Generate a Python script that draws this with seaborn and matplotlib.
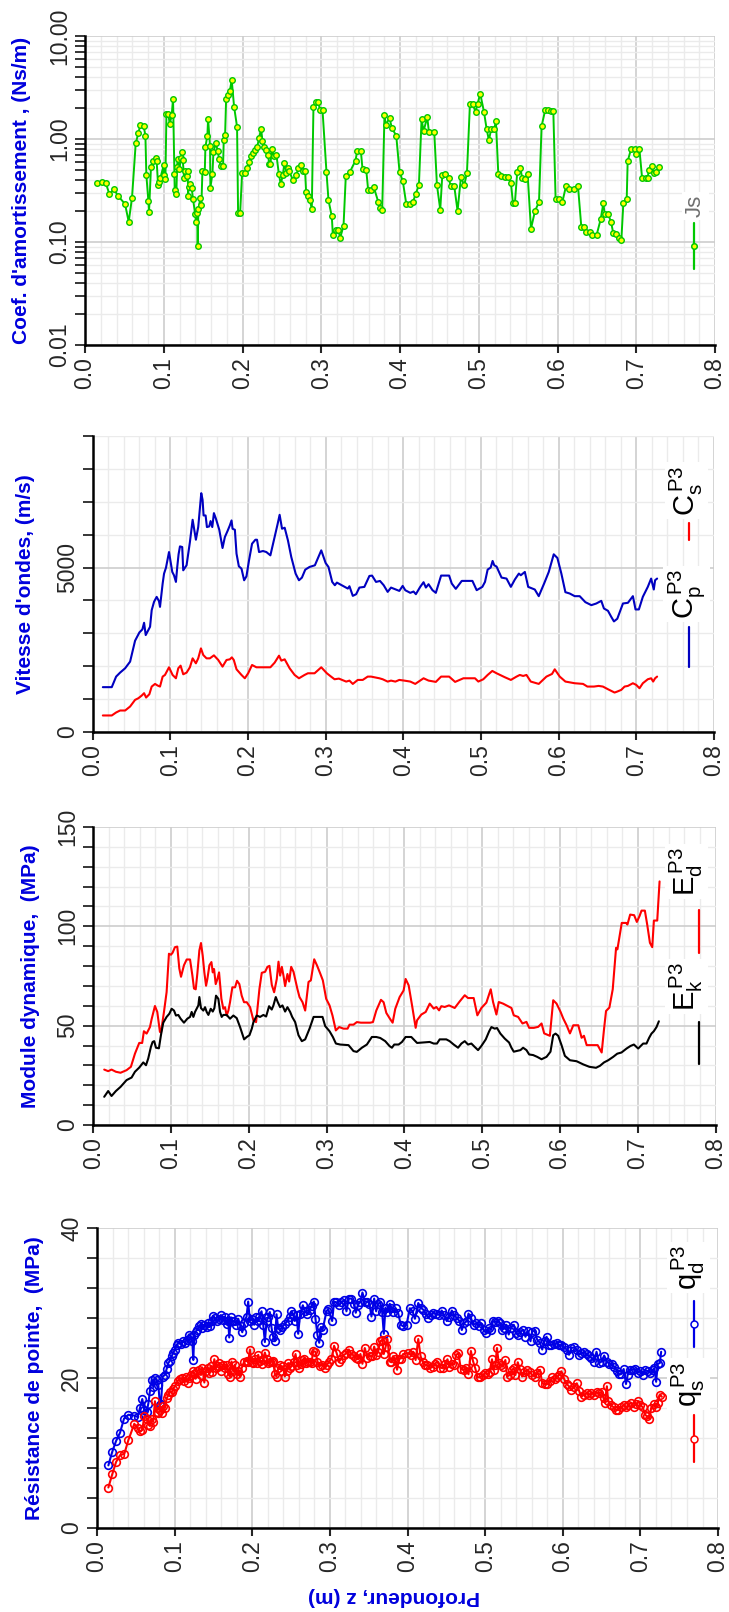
import matplotlib
matplotlib.use("Agg")
import matplotlib.pyplot as plt
import seaborn as sns
from matplotlib.ticker import MultipleLocator, FixedLocator, LogLocator, NullFormatter, FormatStrFormatter

sns.set_style("white")
plt.rcParams["font.family"] = ["Liberation Sans", "DejaVu Sans"]
plt.rcParams["mathtext.fontset"] = "custom"
plt.rcParams["mathtext.rm"] = "Liberation Sans"
plt.rcParams["mathtext.it"] = "Liberation Sans:italic"

# ---------------- data (profondeur z en m) ----------------
# coef. d'amortissement Js
js_z = [0.0152, 0.0212, 0.0263, 0.0309, 0.0368, 0.0424, 0.0508, 0.0555, 0.0597, 0.0644,
        0.0678, 0.0703, 0.0745, 0.0767, 0.0779, 0.0805, 0.0813, 0.0838, 0.0860, 0.0902,
        0.0910, 0.0928, 0.0936, 0.0957, 0.0999, 0.1000, 0.1021, 0.1034, 0.1059, 0.1076,
        0.1101, 0.1118, 0.1135, 0.1139, 0.1160, 0.1169, 0.1177, 0.1198, 0.1220, 0.1237,
        0.1241, 0.1258, 0.1275, 0.1292, 0.1305, 0.1309, 0.1317, 0.1338, 0.1355, 0.1372,
        0.1398, 0.1410, 0.1423, 0.1431, 0.1440, 0.1466, 0.1478, 0.1491, 0.1521, 0.1529,
        0.1554, 0.1563, 0.1588, 0.1592, 0.1618, 0.1631, 0.1660, 0.1686, 0.1703, 0.1724,
        0.1753, 0.1762, 0.1779, 0.1792, 0.1817, 0.1838, 0.1863, 0.1893, 0.1931, 0.1944,
        0.1970, 0.1995, 0.2033, 0.2063, 0.2084, 0.2109, 0.2130, 0.2160, 0.2186, 0.2211,
        0.2236, 0.2253, 0.2279, 0.2300, 0.2325, 0.2338, 0.2355, 0.2372, 0.2397, 0.2431,
        0.2461, 0.2486, 0.2511, 0.2533, 0.2558, 0.2575, 0.2592, 0.2643, 0.2681, 0.2711,
        0.2740, 0.2766, 0.2795, 0.2808, 0.2833, 0.2855, 0.2880, 0.2901, 0.2931, 0.2965,
        0.2982, 0.3016, 0.3066, 0.3092, 0.3134, 0.3147, 0.3189, 0.3219, 0.3240, 0.3283,
        0.3312, 0.3363, 0.3435, 0.3456, 0.3503, 0.3524, 0.3571, 0.3596, 0.3634, 0.3668,
        0.3723, 0.3744, 0.3774, 0.3803, 0.3820, 0.3867, 0.3897, 0.3952, 0.3994, 0.4036,
        0.4079, 0.4121, 0.4164, 0.4197, 0.4240, 0.4274, 0.4299, 0.4346, 0.4367, 0.4435,
        0.4469, 0.4511, 0.4537, 0.4574, 0.4617, 0.4646, 0.4689, 0.4731, 0.4773, 0.4816,
        0.4850, 0.4888, 0.4921, 0.4960, 0.4985, 0.5019, 0.5066, 0.5100, 0.5129, 0.5159,
        0.5197, 0.5218, 0.5248, 0.5286, 0.5328, 0.5366, 0.5409, 0.5434, 0.5459, 0.5489,
        0.5527, 0.5553, 0.5591, 0.5620, 0.5663, 0.5714, 0.5765, 0.5798, 0.5845, 0.5879,
        0.5913, 0.5947, 0.5976, 0.6023, 0.6061, 0.6108, 0.6145, 0.6213, 0.6260, 0.6302,
        0.6336, 0.6366, 0.6408, 0.6442, 0.6497, 0.6548, 0.6582, 0.6599, 0.6641, 0.6679,
        0.6709, 0.6747, 0.6781, 0.6811, 0.6836, 0.6879, 0.6891, 0.6934, 0.6980, 0.7002,
        0.7040, 0.7074, 0.7120, 0.7146, 0.7158, 0.7197, 0.7222, 0.7248, 0.7290]
js_v = [0.374, 0.379, 0.376, 0.292, 0.324, 0.277, 0.234, 0.157, 0.269, 0.907,
        1.14, 1.38, 1.33, 1.08, 0.447, 0.248, 0.197, 0.538, 0.607, 0.658,
        0.611, 0.355, 0.379, 0.418, 0.555, 0.443, 0.412, 1.73, 1.73, 1.39,
        1.70, 2.46, 0.457, 0.322, 0.292, 0.53, 0.644, 0.515, 0.653, 0.747,
        0.63, 0.421, 0.485, 0.44, 0.485, 0.277, 0.342, 0.363, 0.332, 0.261,
        0.188, 0.156, 0.19, 0.092, 0.209, 0.267, 0.228, 0.485, 0.481, 0.836,
        1.08, 1.57, 0.848, 0.337, 0.457, 0.742, 0.913, 0.764, 0.634, 0.542,
        0.542, 0.984, 1.09, 2.44, 2.65, 2.90, 3.74, 2.06, 1.31, 0.191,
        0.191, 0.467, 0.467, 0.526, 0.597, 0.678, 0.731, 0.787, 0.836, 1.02,
        1.26, 0.963, 0.836, 0.787, 0.704, 0.571, 0.571, 0.805, 0.689, 0.699,
        0.46, 0.363, 0.443, 0.584, 0.467, 0.519, 0.485, 0.397, 0.443, 0.519,
        0.563, 0.489, 0.485, 0.303, 0.281, 0.256, 0.209, 2.04, 2.29, 2.29,
        1.91, 1.91, 0.481, 0.254, 0.177, 0.118, 0.132, 0.13, 0.109, 0.144,
        0.44, 0.478, 0.616, 0.764, 0.76, 0.511, 0.503, 0.317, 0.317, 0.339,
        0.246, 0.215, 0.206, 1.70, 1.37, 1.60, 1.27, 1.08, 0.481, 0.388,
        0.235, 0.235, 0.243, 0.29, 0.357, 1.56, 1.19, 1.63, 1.17, 1.16,
        0.357, 0.206, 0.443, 0.46, 0.415, 0.347, 0.347, 0.2, 0.424, 0.357,
        0.467, 2.19, 2.19, 1.83, 2.20, 2.75, 1.84, 1.25, 0.97, 1.26,
        1.26, 1.48, 0.46, 0.44, 0.431, 0.431, 0.371, 0.239, 0.239, 0.481,
        0.523, 0.415, 0.409, 0.46, 0.134, 0.2, 0.244, 1.33, 1.93, 1.93,
        1.85, 1.85, 0.259, 0.259, 0.243, 0.349, 0.327, 0.327, 0.349, 0.141,
        0.14, 0.126, 0.126, 0.117, 0.117, 0.166, 0.237, 0.188, 0.188, 0.157,
        0.121, 0.119, 0.109, 0.105, 0.237, 0.263, 0.607, 0.80, 0.80, 0.72,
        0.80, 0.418, 0.418, 0.418, 0.503, 0.542, 0.464, 0.481, 0.53]

# vitesses d'ondes Cp / Cs (m/s)
cp_z = [0.0132, 0.0247, 0.0303, 0.0354, 0.0419, 0.0483, 0.0547, 0.0603, 0.0641, 0.0663,
        0.0684, 0.0740, 0.0761, 0.0791, 0.0825, 0.0855, 0.0868, 0.0902, 0.0920, 0.0945,
        0.0984, 0.1026, 0.1048, 0.1073, 0.1090, 0.1107, 0.1125, 0.1154, 0.1167, 0.1210,
        0.1232, 0.1253, 0.1288, 0.1330, 0.1360, 0.1381, 0.1399, 0.1416, 0.1429, 0.1455,
        0.1472, 0.1502, 0.1519, 0.1541, 0.1562, 0.1588, 0.1631, 0.1673, 0.1703, 0.1737,
        0.1767, 0.1789, 0.1802, 0.1832, 0.1853, 0.1883, 0.1917, 0.1951, 0.1981, 0.2014,
        0.2053, 0.2096, 0.2117, 0.2143, 0.2194, 0.2237, 0.2289, 0.2344, 0.2383, 0.2408,
        0.2439, 0.2473, 0.2515, 0.2558, 0.2614, 0.2657, 0.2695, 0.2738, 0.2793, 0.2862,
        0.2944, 0.3000, 0.3037, 0.3085, 0.3119, 0.3145, 0.3222, 0.3286, 0.3307, 0.3350,
        0.3393, 0.3435, 0.3499, 0.3564, 0.3598, 0.3649, 0.3700, 0.3748, 0.3799, 0.3842,
        0.3906, 0.3949, 0.3992, 0.4026, 0.4090, 0.4132, 0.4162, 0.4218, 0.4261, 0.4291,
        0.4325, 0.4376, 0.4419, 0.4487, 0.4590, 0.4624, 0.4676, 0.4753, 0.4817, 0.4890,
        0.4945, 0.5018, 0.5052, 0.5086, 0.5125, 0.5150, 0.5171, 0.5201, 0.5265, 0.5329,
        0.5385, 0.5436, 0.5488, 0.5513, 0.5565, 0.5608, 0.5693, 0.5744, 0.5813, 0.5873,
        0.5937, 0.5984, 0.6035, 0.6087, 0.6142, 0.6207, 0.6271, 0.6344, 0.6421, 0.6485,
        0.6549, 0.6583, 0.6635, 0.6677, 0.6712, 0.6755, 0.6828, 0.6892, 0.6956, 0.6990,
        0.7033, 0.7084, 0.7148, 0.7191, 0.7225, 0.7242, 0.7268]
cp_v = [1364, 1364, 1685, 1806, 1938, 2140, 2776, 3029, 3120, 3322,
        2948, 3200, 3705, 3958, 4109, 3978, 3806, 4513, 4816, 4998,
        5473, 4867, 4766, 4564, 5019, 5402, 5645, 5625, 4917, 5070,
        5423, 5776, 6454, 5847, 6232, 6787, 7262, 7060, 6585, 6585,
        6232, 6253, 6414, 6232, 6656, 6484, 6150, 5595, 5928, 6110,
        6282, 6434, 6181, 6150, 5423, 5039, 4968, 4614, 4735, 5220,
        5726, 5847, 5847, 5473, 5504, 5473, 5372, 5928, 6333, 6605,
        6181, 6212, 5827, 5322, 4816, 4614, 4695, 4937, 5019, 5070,
        5524, 5140, 5019, 4564, 4463, 4544, 4443, 4362, 4433, 4140,
        4190, 4392, 4413, 4746, 4756, 4564, 4594, 4463, 4261, 4392,
        4332, 4291, 4443, 4311, 4232, 4272, 4191, 4414, 4555, 4393,
        4494, 4313, 4232, 4757, 4757, 4515, 4353, 4595, 4595, 4595,
        4313, 4414, 4565, 4939, 5000, 5202, 5070, 5030, 4696, 4666,
        4414, 4636, 4818, 4767, 4868, 4414, 4333, 4131, 4515, 4868,
        5404, 5292, 4818, 4252, 4212, 4131, 4131, 3949, 3858, 3908,
        3989, 3757, 3686, 3504, 3363, 3444, 3908, 3929, 4131, 3727,
        3727, 4111, 4414, 4666, 4333, 4616, 4666]
cs_z = [0.0132, 0.0247, 0.0303, 0.0354, 0.0419, 0.0483, 0.0547, 0.0590, 0.0633, 0.0663,
        0.0689, 0.0731, 0.0761, 0.0804, 0.0838, 0.0868, 0.0902, 0.0932, 0.0984, 0.1030,
        0.1073, 0.1103, 0.1133, 0.1167, 0.1210, 0.1253, 0.1288, 0.1330, 0.1360, 0.1395,
        0.1425, 0.1467, 0.1510, 0.1562, 0.1618, 0.1673, 0.1724, 0.1767, 0.1793, 0.1818,
        0.1853, 0.1917, 0.1960, 0.2003, 0.2053, 0.2109, 0.2289, 0.2344, 0.2400, 0.2430,
        0.2473, 0.2537, 0.2601, 0.2657, 0.2729, 0.2772, 0.2858, 0.2944, 0.3016, 0.3059,
        0.3115, 0.3171, 0.3265, 0.3307, 0.3350, 0.3414, 0.3478, 0.3542, 0.3585, 0.3692,
        0.3735, 0.3799, 0.3842, 0.3898, 0.3949, 0.4013, 0.4090, 0.4154, 0.4261, 0.4325,
        0.4419, 0.4487, 0.4590, 0.4667, 0.4774, 0.4923, 0.4966, 0.5030, 0.5086, 0.5146,
        0.5201, 0.5308, 0.5385, 0.5458, 0.5500, 0.5543, 0.5586, 0.5641, 0.5744, 0.5843,
        0.5915, 0.5950, 0.6014, 0.6087, 0.6207, 0.6314, 0.6370, 0.6455, 0.6515, 0.6570,
        0.6635, 0.6720, 0.6755, 0.6806, 0.6849, 0.6892, 0.6956, 0.6999, 0.7041, 0.7084,
        0.7148, 0.7191, 0.7217, 0.7242, 0.7268]
cs_v = [503, 503, 594, 654, 654, 775, 977, 1028, 1109, 1180,
        1048, 1149, 1382, 1462, 1412, 1382, 1685, 1735, 1968, 1735,
        1634, 1937, 2018, 1755, 1806, 1968, 2240, 2089, 2240, 2543,
        2341, 2240, 2240, 2331, 2190, 1988, 2190, 2210, 2270, 2190,
        1907, 1735, 1634, 1786, 2038, 1968, 1968, 2109, 2321, 2170,
        2210, 1937, 1735, 1634, 1735, 1786, 1786, 1968, 1786, 1705,
        1604, 1624, 1533, 1563, 1462, 1584, 1584, 1685, 1685, 1634,
        1604, 1533, 1563, 1533, 1584, 1563, 1534, 1463, 1634, 1564,
        1524, 1685, 1685, 1524, 1634, 1634, 1534, 1604, 1735, 1857,
        1786, 1665, 1584, 1685, 1735, 1705, 1735, 1534, 1463, 1685,
        1766, 1907, 1685, 1534, 1483, 1463, 1382, 1382, 1402, 1382,
        1301, 1200, 1230, 1281, 1382, 1402, 1483, 1433, 1331, 1483,
        1604, 1634, 1534, 1634, 1685]

# module dynamique Ek / Ed (MPa)
ek_z = [0.0142, 0.0193, 0.0236, 0.0292, 0.0352, 0.0429, 0.0494, 0.0537, 0.0592, 0.0644,
        0.0679, 0.0708, 0.0742, 0.0764, 0.0785, 0.0807, 0.0845, 0.0871, 0.0901, 0.0944,
        0.0979, 0.1009, 0.1039, 0.1064, 0.1094, 0.1124, 0.1167, 0.1210, 0.1245, 0.1266,
        0.1288, 0.1309, 0.1330, 0.1352, 0.1365, 0.1386, 0.1416, 0.1438, 0.1459, 0.1481,
        0.1511, 0.1537, 0.1558, 0.1579, 0.1609, 0.1631, 0.1652, 0.1673, 0.1716, 0.1759,
        0.1802, 0.1845, 0.1888, 0.1940, 0.1974, 0.2009, 0.2039, 0.2060, 0.2103, 0.2145,
        0.2188, 0.2223, 0.2261, 0.2295, 0.2317, 0.2347, 0.2373, 0.2403, 0.2433, 0.2467,
        0.2497, 0.2532, 0.2558, 0.2596, 0.2639, 0.2682, 0.2725, 0.2781, 0.2833, 0.2897,
        0.2948, 0.2982, 0.3038, 0.3081, 0.3120, 0.3175, 0.3282, 0.3346, 0.3389, 0.3454,
        0.3518, 0.3582, 0.3639, 0.3690, 0.3754, 0.3810, 0.3840, 0.3870, 0.3926, 0.3969,
        0.4016, 0.4089, 0.4163, 0.4231, 0.4326, 0.4377, 0.4419, 0.4454, 0.4539, 0.4582,
        0.4634, 0.4690, 0.4733, 0.4776, 0.4818, 0.4861, 0.4904, 0.4947, 0.4990, 0.5046,
        0.5089, 0.5119, 0.5161, 0.5191, 0.5234, 0.5290, 0.5346, 0.5376, 0.5406, 0.5440,
        0.5492, 0.5526, 0.5569, 0.5604, 0.5655, 0.5707, 0.5763, 0.5827, 0.5878, 0.5913,
        0.5943, 0.5977, 0.6020, 0.6063, 0.6128, 0.6214, 0.6299, 0.6377, 0.6463, 0.6514,
        0.6566, 0.6620, 0.6684, 0.6736, 0.6791, 0.6856, 0.6907, 0.6950, 0.7005, 0.7069,
        0.7112, 0.7146, 0.7176, 0.7206, 0.7241, 0.7271]
ek_v = [14.2, 17.1, 14.6, 17.1, 19.2, 22.6, 23.9, 26.8, 28.9, 31.5,
        30.1, 33.5, 39.3, 41.8, 42.2, 38.9, 38.6, 45.2, 51.5, 54.4,
        56.0, 58.5, 57.6, 55.1, 55.4, 53.5, 51.5, 53.5, 54.4, 56.9,
        54.4, 56.9, 58.5, 60.2, 64.4, 58.8, 57.6, 59.3, 56.9, 55.4,
        58.5, 57.1, 58.8, 65.1, 63.5, 56.9, 54.4, 55.4, 55.4, 53.5,
        55.1, 53.8, 49.3, 43.1, 44.3, 45.2, 48.5, 51.8, 55.1, 54.4,
        55.4, 54.6, 59.8, 58.1, 60.2, 64.4, 61.8, 59.3, 60.2, 57.1,
        59.3, 56.9, 54.4, 51.8, 45.2, 42.2, 43.1, 48.5, 54.4, 54.4,
        54.4, 49.8, 47.2, 44.3, 41.0, 40.5, 40.2, 37.2, 36.8, 38.9,
        40.5, 44.3, 44.3, 43.8, 42.2, 39.7, 38.9, 40.5, 40.5, 41.8,
        44.3, 44.3, 41.3, 41.5, 41.8, 41.0, 41.0, 43.1, 43.1, 42.2,
        40.5, 38.9, 41.0, 42.2, 40.5, 41.0, 39.3, 37.7, 39.8, 43.1,
        47.1, 49.3, 48.5, 48.8, 46.0, 43.5, 41.5, 38.9, 36.9, 37.2,
        37.7, 38.9, 37.7, 35.5, 35.2, 34.3, 33.1, 34.3, 36.9, 45.2,
        46.0, 44.9, 40.2, 34.8, 32.6, 32.1, 30.5, 29.3, 28.8, 29.8,
        31.5, 32.6, 34.3, 35.9, 36.5, 38.5, 39.8, 40.5, 38.5, 41.0,
        41.0, 43.9, 46.0, 47.2, 49.3, 52.2]
ed_z = [0.0142, 0.0193, 0.0236, 0.0292, 0.0352, 0.0429, 0.0485, 0.0537, 0.0592, 0.0630,
        0.0652, 0.0687, 0.0730, 0.0751, 0.0794, 0.0824, 0.0858, 0.0871, 0.0910, 0.0944,
        0.0974, 0.1000, 0.1021, 0.1051, 0.1081, 0.1107, 0.1129, 0.1167, 0.1202, 0.1245,
        0.1275, 0.1296, 0.1318, 0.1339, 0.1365, 0.1386, 0.1408, 0.1429, 0.1451, 0.1468,
        0.1494, 0.1520, 0.1537, 0.1554, 0.1575, 0.1597, 0.1618, 0.1648, 0.1673, 0.1695,
        0.1716, 0.1738, 0.1759, 0.1789, 0.1824, 0.1849, 0.1879, 0.1909, 0.1939, 0.1974,
        0.2017, 0.2060, 0.2094, 0.2137, 0.2167, 0.2210, 0.2240, 0.2266, 0.2296, 0.2326,
        0.2360, 0.2382, 0.2403, 0.2425, 0.2446, 0.2467, 0.2497, 0.2519, 0.2545, 0.2575,
        0.2605, 0.2626, 0.2652, 0.2691, 0.2725, 0.2768, 0.2798, 0.2841, 0.2876, 0.2919,
        0.2952, 0.2995, 0.3038, 0.3076, 0.3119, 0.3162, 0.3218, 0.3270, 0.3295, 0.3346,
        0.3389, 0.3441, 0.3561, 0.3596, 0.3639, 0.3699, 0.3733, 0.3768, 0.3819, 0.3849,
        0.3883, 0.3939, 0.3990, 0.4016, 0.4055, 0.4102, 0.4145, 0.4163, 0.4218, 0.4274,
        0.4326, 0.4377, 0.4411, 0.4446, 0.4475, 0.4518, 0.4574, 0.4647, 0.4711, 0.4776,
        0.4818, 0.4891, 0.4938, 0.4990, 0.5054, 0.5110, 0.5140, 0.5183, 0.5213, 0.5268,
        0.5333, 0.5376, 0.5406, 0.5462, 0.5518, 0.5569, 0.5604, 0.5664, 0.5720, 0.5763,
        0.5797, 0.5870, 0.5913, 0.5956, 0.6008, 0.6042, 0.6085, 0.6128, 0.6171, 0.6235,
        0.6278, 0.6308, 0.6343, 0.6394, 0.6484, 0.6536, 0.6566, 0.6592, 0.6635, 0.6678,
        0.6721, 0.6738, 0.6794, 0.6850, 0.6867, 0.6902, 0.6953, 0.6988, 0.7022, 0.7048,
        0.7091, 0.7121, 0.7156, 0.7186, 0.7207, 0.7250, 0.7280]
ed_v = [27.9, 27.1, 27.9, 26.8, 26.3, 27.6, 29.3, 35.9, 41.3, 41.3,
        47.2, 46.0, 49.3, 53.2, 59.9, 56.9, 46.9, 46.5, 56.9, 66.9,
        86.2, 85.7, 86.7, 89.5, 89.8, 78.8, 74.6, 80.4, 83.3, 83.3,
        75.3, 68.7, 68.3, 76.2, 87.9, 91.6, 85.2, 76.8, 70.1, 73.5,
        80.4, 82.0, 76.8, 78.5, 70.9, 73.5, 76.8, 63.5, 58.5, 59.3,
        55.1, 57.6, 61.8, 69.3, 69.3, 72.6, 70.9, 65.1, 61.8, 61.8,
        59.3, 52.6, 51.8, 68.5, 76.6, 77.1, 79.6, 80.1, 70.5, 66.8,
        73.5, 82.2, 75.2, 79.6, 75.2, 69.9, 76.0, 72.2, 79.6, 77.1,
        72.0, 68.3, 64.4, 61.8, 57.6, 72.0, 72.8, 83.4, 80.4, 76.2,
        72.8, 63.5, 60.2, 55.1, 47.6, 49.3, 48.5, 48.5, 50.5, 50.5,
        51.8, 51.5, 51.5, 51.8, 57.6, 63.0, 61.8, 56.4, 53.2, 51.5,
        58.5, 64.4, 67.7, 73.5, 70.3, 59.4, 48.9, 52.7, 55.6, 56.9,
        61.1, 58.6, 59.4, 57.7, 59.8, 59.4, 60.2, 58.9, 62.2, 65.3,
        63.9, 63.9, 55.2, 58.9, 61.6, 68.3, 61.9, 55.6, 61.9, 61.1,
        59.8, 58.9, 55.2, 54.4, 51.1, 51.9, 48.9, 48.9, 49.4, 51.1,
        46.1, 44.9, 62.8, 61.1, 56.9, 53.6, 50.2, 46.1, 50.2, 50.2,
        43.9, 44.9, 40.2, 40.2, 40.2, 36.5, 48.2, 57.4, 59.1, 68.3,
        89.2, 88.4, 101.7, 101.7, 100.9, 105.9, 105.6, 102.2, 105.1, 107.9,
        107.9, 100.9, 91.7, 89.5, 102.9, 102.9, 122.6]

# resistance de pointe qd / qs (MPa)
qd_z = [0.0146, 0.0197, 0.0245, 0.0296, 0.0348, 0.0403, 0.0480, 0.0523, 0.0553, 0.0583,
        0.0609, 0.0639, 0.0661, 0.0682, 0.0704, 0.0725, 0.0746, 0.0768, 0.0789, 0.0811,
        0.0824, 0.0845, 0.0875, 0.0897, 0.0918, 0.0939, 0.0961, 0.0982, 0.1004, 0.1025,
        0.1047, 0.1081, 0.1111, 0.1133, 0.1154, 0.1184, 0.1210, 0.1227, 0.1240, 0.1253,
        0.1270, 0.1291, 0.1313, 0.1339, 0.1356, 0.1382, 0.1412, 0.1433, 0.1455, 0.1476,
        0.1498, 0.1519, 0.1541, 0.1571, 0.1596, 0.1626, 0.1648, 0.1669, 0.1690, 0.1703,
        0.1725, 0.1742, 0.1768, 0.1794, 0.1819, 0.1849, 0.1871, 0.1896, 0.1926, 0.1947,
        0.1969, 0.1999, 0.2025, 0.2046, 0.2068, 0.2089, 0.2119, 0.2141, 0.2162, 0.2184,
        0.2205, 0.2226, 0.2248, 0.2269, 0.2291, 0.2312, 0.2333, 0.2355, 0.2385, 0.2419,
        0.2454, 0.2484, 0.2505, 0.2527, 0.2548, 0.2570, 0.2591, 0.2617, 0.2651, 0.2677,
        0.2711, 0.2741, 0.2763, 0.2793, 0.2814, 0.2840, 0.2862, 0.2883, 0.2905, 0.2956,
        0.2977, 0.3029, 0.3054, 0.3084, 0.3119, 0.3148, 0.3183, 0.3213, 0.3243, 0.3277,
        0.3307, 0.3333, 0.3363, 0.3393, 0.3419, 0.3449, 0.3483, 0.3509, 0.3535, 0.3570,
        0.3595, 0.3621, 0.3647, 0.3673, 0.3694, 0.3716, 0.3741, 0.3771, 0.3792, 0.3814,
        0.3848, 0.3878, 0.3913, 0.3943, 0.3987, 0.4030, 0.4065, 0.4095, 0.4138, 0.4168,
        0.4203, 0.4237, 0.4268, 0.4298, 0.4332, 0.4367, 0.4410, 0.4440, 0.4470, 0.4505,
        0.4540, 0.4570, 0.4600, 0.4634, 0.4669, 0.4699, 0.4729, 0.4764, 0.4785, 0.4816,
        0.4850, 0.4885, 0.4915, 0.4945, 0.4980, 0.5014, 0.5044, 0.5075, 0.5101, 0.5131,
        0.5161, 0.5196, 0.5221, 0.5247, 0.5273, 0.5303, 0.5334, 0.5368, 0.5394, 0.5420,
        0.5454, 0.5489, 0.5519, 0.5549, 0.5584, 0.5605, 0.5636, 0.5670, 0.5705, 0.5735,
        0.5765, 0.5791, 0.5821, 0.5852, 0.5886, 0.5921, 0.5951, 0.5981, 0.6016, 0.6050,
        0.6080, 0.6110, 0.6145, 0.6180, 0.6210, 0.6240, 0.6275, 0.6309, 0.6339, 0.6369,
        0.6404, 0.6434, 0.6469, 0.6499, 0.6533, 0.6568, 0.6598, 0.6628, 0.6663, 0.6697,
        0.6728, 0.6749, 0.6784, 0.6814, 0.6835, 0.6870, 0.6900, 0.6930, 0.6965, 0.7000,
        0.7030, 0.7060, 0.7095, 0.7129, 0.7159, 0.7181, 0.7202, 0.7224, 0.7250, 0.7267]
qd_v = [8.35, 10.2, 11.6, 12.7, 14.6, 15.1, 15.0, 14.8, 16.0, 17.2,
        15.7, 15.5, 16.6, 18.3, 19.8, 18.8, 20.0, 19.8, 19.1, 16.4,
        16.6, 20.2, 20.4, 21.2, 22.0, 22.3, 22.9, 23.4, 23.8, 24.4,
        24.7, 24.5, 24.9, 24.7, 25.1, 25.8, 25.5, 24.9, 22.4, 25.8,
        26.2, 26.4, 26.9, 27.2, 26.7, 27.1, 26.8, 27.4, 26.9, 27.6,
        28.3, 28.0, 27.6, 27.9, 28.4, 27.8, 28.1, 27.2, 27.6, 25.4,
        28.1, 27.6, 27.6, 27.1, 27.9, 26.9, 26.1, 27.4, 28.2, 30.2,
        27.6, 27.9, 27.1, 28.1, 27.6, 28.2, 28.9, 27.1, 24.8, 27.6,
        28.1, 28.8, 26.7, 25.5, 24.9, 28.5, 26.7, 26.4, 26.8, 27.2,
        27.6, 28.2, 28.9, 28.5, 27.6, 28.4, 25.9, 28.6, 29.7, 28.9,
        28.5, 29.1, 29.6, 30.2, 27.9, 25.7, 24.7, 26.8, 26.4, 28.9,
        29.2, 27.6, 30.2, 30.1, 29.7, 30.1, 30.4, 28.9, 30.6, 30.6,
        29.9, 28.7, 29.8, 30.2, 31.4, 30.2, 30.2, 29.9, 28.2, 30.6,
        28.9, 29.9, 30.1, 28.8, 25.9, 29.4, 28.8, 29.9, 29.4, 28.8,
        29.3, 28.7, 27.1, 26.9, 27.1, 29.3, 28.9, 27.9, 30.0, 29.4,
        29.1, 28.5, 28.0, 28.4, 28.7, 28.6, 28.4, 29.0, 28.4, 27.6,
        28.2, 29.0, 28.4, 28.0, 27.6, 26.4, 27.3, 27.6, 28.6, 28.0,
        27.1, 27.3, 26.9, 27.3, 26.4, 26.0, 26.7, 26.4, 27.6, 27.5,
        27.6, 27.3, 26.4, 26.7, 27.1, 25.8, 26.7, 27.1, 26.0, 25.8,
        26.2, 26.4, 25.5, 26.3, 24.9, 26.2, 26.3, 25.1, 24.7, 23.8,
        25.0, 25.5, 24.4, 24.4, 24.5, 24.7, 24.4, 24.4, 24.1, 23.8,
        23.1, 24.0, 24.1, 23.8, 23.1, 23.3, 23.5, 23.2, 22.9, 22.7,
        22.2, 23.5, 22.0, 22.2, 23.0, 22.2, 21.9, 21.9, 21.5, 21.0,
        20.5, 20.5, 21.2, 19.2, 20.4, 21.1, 21.1, 21.2, 20.7, 20.9,
        20.4, 21.1, 20.9, 20.7, 21.1, 21.3, 19.5, 21.9, 22.0, 23.5]
qs_z = [0.0146, 0.0197, 0.0245, 0.0296, 0.0352, 0.0403, 0.0480, 0.0523, 0.0553, 0.0583,
        0.0609, 0.0639, 0.0661, 0.0682, 0.0704, 0.0725, 0.0746, 0.0768, 0.0789, 0.0811,
        0.0832, 0.0854, 0.0875, 0.0897, 0.0918, 0.0939, 0.0961, 0.0982, 0.1004, 0.1038,
        0.1068, 0.1098, 0.1124, 0.1141, 0.1167, 0.1188, 0.1210, 0.1231, 0.1253, 0.1270,
        0.1291, 0.1313, 0.1339, 0.1356, 0.1382, 0.1403, 0.1425, 0.1442, 0.1463, 0.1485,
        0.1511, 0.1532, 0.1554, 0.1575, 0.1596, 0.1626, 0.1648, 0.1669, 0.1690, 0.1712,
        0.1733, 0.1754, 0.1776, 0.1798, 0.1819, 0.1841, 0.1862, 0.1896, 0.1926, 0.1947,
        0.1969, 0.1990, 0.2012, 0.2033, 0.2055, 0.2076, 0.2098, 0.2119, 0.2141, 0.2162,
        0.2184, 0.2205, 0.2226, 0.2248, 0.2269, 0.2291, 0.2312, 0.2333, 0.2355, 0.2376,
        0.2398, 0.2419, 0.2441, 0.2462, 0.2484, 0.2505, 0.2535, 0.2557, 0.2578, 0.2600,
        0.2625, 0.2643, 0.2668, 0.2698, 0.2720, 0.2741, 0.2763, 0.2784, 0.2814, 0.2840,
        0.2870, 0.2900, 0.2934, 0.2964, 0.2986, 0.3020, 0.3054, 0.3084, 0.3119, 0.3148,
        0.3183, 0.3213, 0.3243, 0.3277, 0.3307, 0.3333, 0.3363, 0.3393, 0.3419, 0.3449,
        0.3483, 0.3513, 0.3544, 0.3570, 0.3599, 0.3621, 0.3647, 0.3673, 0.3694, 0.3716,
        0.3741, 0.3771, 0.3792, 0.3814, 0.3835, 0.3865, 0.3891, 0.3913, 0.3943, 0.4009,
        0.4039, 0.4073, 0.4104, 0.4138, 0.4168, 0.4194, 0.4224, 0.4255, 0.4289, 0.4324,
        0.4354, 0.4384, 0.4419, 0.4453, 0.4483, 0.4514, 0.4540, 0.4570, 0.4600, 0.4626,
        0.4656, 0.4686, 0.4721, 0.4755, 0.4785, 0.4816, 0.4842, 0.4872, 0.4902, 0.4937,
        0.4971, 0.5001, 0.5032, 0.5057, 0.5088, 0.5109, 0.5131, 0.5152, 0.5174, 0.5204,
        0.5230, 0.5260, 0.5282, 0.5316, 0.5347, 0.5368, 0.5390, 0.5420, 0.5446, 0.5476,
        0.5506, 0.5541, 0.5575, 0.5605, 0.5636, 0.5670, 0.5705, 0.5735, 0.5765, 0.5800,
        0.5834, 0.5864, 0.5895, 0.5921, 0.5951, 0.5981, 0.6016, 0.6050, 0.6080, 0.6110,
        0.6145, 0.6180, 0.6210, 0.6240, 0.6275, 0.6309, 0.6339, 0.6369, 0.6404, 0.6438,
        0.6469, 0.6499, 0.6525, 0.6542, 0.6568, 0.6585, 0.6620, 0.6654, 0.6684, 0.6715,
        0.6749, 0.6784, 0.6814, 0.6844, 0.6879, 0.6913, 0.6943, 0.6974, 0.7000, 0.7030,
        0.7060, 0.7086, 0.7116, 0.7138, 0.7172, 0.7202, 0.7224, 0.7250, 0.7276]
qs_v = [5.4, 7.2, 8.8, 9.7, 9.9, 11.7, 13.9, 13.3, 12.9, 13.1,
        14.9, 14.6, 13.8, 13.6, 14.5, 14.2, 16.9, 15.5, 15.3, 15.7,
        15.4, 16.3, 16.0, 17.3, 17.7, 18.2, 18.1, 18.6, 18.9, 19.6,
        19.9, 20.0, 19.6, 20.1, 19.4, 20.0, 20.4, 20.9, 20.5, 19.9,
        20.9, 21.1, 20.4, 21.4, 19.4, 20.9, 21.3, 20.7, 21.6, 20.8,
        22.5, 21.3, 21.6, 22.0, 21.0, 21.8, 21.3, 21.8, 20.5, 20.2,
        22.2, 20.9, 21.8, 20.5, 20.9, 20.2, 21.3, 22.2, 22.3, 22.1,
        23.8, 22.2, 22.0, 22.6, 22.0, 23.1, 22.3, 21.9, 22.6, 23.4,
        22.6, 22.0, 22.1, 22.2, 22.3, 20.5, 20.2, 21.3, 21.8, 21.0,
        21.6, 20.2, 20.9, 22.0, 21.3, 21.6, 22.2, 23.2, 21.8, 21.4,
        21.9, 22.4, 22.6, 22.0, 22.2, 22.2, 22.0, 23.6, 23.5, 22.2,
        21.6, 21.8, 21.4, 21.8, 22.1, 22.6, 24.3, 23.4, 22.2, 22.6,
        23.1, 23.3, 23.8, 23.2, 23.0, 22.7, 22.5, 23.2, 21.9, 24.0,
        22.7, 23.0, 22.9, 24.2, 23.1, 23.5, 24.9, 25.1, 23.2, 24.1,
        25.2, 22.2, 22.1, 22.9, 22.6, 21.1, 22.6, 22.6, 23.2, 23.3,
        23.1, 23.5, 22.4, 25.2, 22.9, 22.2, 21.8, 21.7, 21.3, 21.5,
        21.9, 22.2, 21.4, 21.3, 21.9, 22.5, 21.5, 21.9, 21.8, 23.1,
        23.3, 21.2, 21.1, 21.3, 20.5, 23.6, 22.3, 21.3, 20.1, 20.1,
        20.4, 20.7, 20.5, 20.8, 22.5, 21.1, 21.8, 24.0, 22.0, 21.8,
        21.5, 22.4, 20.2, 20.4, 21.1, 21.3, 20.4, 22.1, 21.2, 20.2,
        20.8, 21.1, 20.8, 20.4, 20.2, 20.7, 21.1, 19.3, 19.2, 19.2,
        19.6, 20.1, 19.9, 20.1, 20.4, 20.9, 19.9, 19.2, 18.9, 18.4,
        18.8, 19.3, 18.3, 17.5, 17.8, 18.0, 17.8, 18.0, 17.8, 18.1,
        18.0, 18.1, 17.3, 16.7, 18.9, 16.9, 16.4, 16.1, 15.8, 15.8,
        16.1, 16.4, 16.1, 16.4, 16.7, 16.2, 16.5, 16.9, 16.4, 16.1,
        15.1, 14.9, 14.6, 16.0, 16.5, 16.2, 16.7, 17.8, 17.5]

depth_ticks = [0.0, 0.1, 0.2, 0.3, 0.4, 0.5, 0.6, 0.7, 0.8]

# ---------------- style ----------------
LABEL_BLUE = "#0000dd"
TICK_FS = 16.5
LABEL_FS = 15
LEG_FS = 21

fig = plt.figure(figsize=(7.29, 16.12), dpi=100)
ax1 = fig.add_axes([0.1166, 0.7860, 0.8642, 0.1917])
ax2 = fig.add_axes([0.1270, 0.5459, 0.8524, 0.1836])
ax3 = fig.add_axes([0.1278, 0.3021, 0.8538, 0.1849])
ax4 = fig.add_axes([0.1331, 0.0521, 0.8519, 0.1861])


def style_axis(ax, label, label_x):
    ax.set_xlim(0, 0.8)
    ax.xaxis.set_major_locator(FixedLocator(depth_ticks))
    ax.xaxis.set_minor_locator(MultipleLocator(0.02))
    ax.xaxis.set_major_formatter(FormatStrFormatter("%.1f"))
    ax.grid(True, which="major", color="#cdcdcd", lw=1.2)
    ax.grid(True, which="minor", color="#ebebeb", lw=1.0)
    ax.set_axisbelow(True)
    for s in ["top", "right"]:
        ax.spines[s].set_visible(False)
    for s in ["left", "bottom"]:
        ax.spines[s].set_color("black")
        ax.spines[s].set_linewidth(1.8)
    ax.tick_params(axis="x", which="major", bottom=True, direction="out", length=6,
                   width=1.5, labelsize=TICK_FS, labelrotation=90, pad=3)
    ax.tick_params(axis="x", which="minor", bottom=False, length=0)
    ax.tick_params(axis="y", which="both", left=True, direction="out", length=7,
                   width=1.3, labelsize=TICK_FS, labelrotation=90, pad=3)
    plt.setp(ax.get_yticklabels(), va="center")
    ax.set_xlabel("")
    ax.set_ylabel(label, fontsize=LABEL_FS, fontweight="bold", color=LABEL_BLUE)
    ax.yaxis.set_label_coords(label_x, 0.5)


def leg_line(ax, x, y0, y1, color, marker=None, mfc="white", ms=5):
    ax.plot([x, x], [y0, y1], transform=ax.transAxes, color=color, lw=1.6, clip_on=False)
    if marker:
        ax.plot([x], [(y0 + y1) / 2], transform=ax.transAxes, color=color, marker=marker,
                mfc=mfc, mec=color, ms=ms, mew=1.1, clip_on=False)


def leg_text(ax, x, y, text, color="black", fs=LEG_FS):
    ax.text(x, y, text, transform=ax.transAxes, rotation=90, ha="center", va="center",
            fontsize=fs, color=color,
            bbox=dict(facecolor="white", edgecolor="none", pad=2))


# ----- panel 1 : coef. d'amortissement (log) -----
ax1.set_yscale("log")
sns.lineplot(x=js_z, y=js_v, ax=ax1, color="#00c800", linewidth=1.4, marker="o",
             markersize=4, markerfacecolor="#ffff00", markeredgecolor="#00c800",
             markeredgewidth=1.0, estimator=None, sort=False)
ax1.set_ylim(0.01, 10)
ax1.yaxis.set_major_locator(FixedLocator([0.01, 0.1, 1, 10]))
ax1.yaxis.set_major_formatter(FormatStrFormatter("%.2f"))
ax1.yaxis.set_minor_locator(LogLocator(base=10, subs=range(2, 10)))
ax1.yaxis.set_minor_formatter(NullFormatter())
style_axis(ax1, "Coef. d'amortissement , (Ns/m)", -0.086)
leg_line(ax1, 0.966, 0.245, 0.396, "#00c800", marker="o", mfc="#ffff00", ms=4)
leg_text(ax1, 0.969, 0.45, "Js", color="#707070", fs=16)

# ----- panel 2 : vitesse d'ondes -----
sns.lineplot(x=cp_z, y=cp_v, ax=ax2, color="#0000c0", linewidth=1.5, estimator=None, sort=False)
sns.lineplot(x=cs_z, y=cs_v, ax=ax2, color="#ff0000", linewidth=1.5, estimator=None, sort=False)
ax2.set_ylim(0, 9000)
ax2.yaxis.set_major_locator(FixedLocator([0, 5000]))
ax2.yaxis.set_minor_locator(MultipleLocator(1000))
style_axis(ax2, "Vitesse d'ondes, (m/s)", -0.092)
leg_line(ax2, 0.959, 0.221, 0.356, "#0000c0")
leg_text(ax2, 0.956, 0.466, r"$\mathregular{C_p^{\,P3}}$")
leg_line(ax2, 0.959, 0.649, 0.705, "#ff0000")
leg_text(ax2, 0.956, 0.816, r"$\mathregular{C_s^{\,P3}}$")

# ----- panel 3 : module dynamique -----
sns.lineplot(x=ed_z, y=ed_v, ax=ax3, color="#ff0000", linewidth=1.5, estimator=None, sort=False)
sns.lineplot(x=ek_z, y=ek_v, ax=ax3, color="#000000", linewidth=1.5, estimator=None, sort=False)
ax3.set_ylim(0, 150)
ax3.yaxis.set_major_locator(MultipleLocator(50))
ax3.yaxis.set_minor_locator(MultipleLocator(10))
style_axis(ax3, "Module dynamique,  (MPa)", -0.085)
leg_line(ax3, 0.974, 0.204, 0.347, "#000000")
leg_text(ax3, 0.953, 0.464, r"$\mathregular{E_k^{\,P3}}$")
leg_line(ax3, 0.974, 0.576, 0.721, "#ff0000")
leg_text(ax3, 0.953, 0.850, r"$\mathregular{E_d^{\,P3}}$")

# ----- panel 4 : resistance de pointe -----
sns.lineplot(x=qd_z, y=qd_v, ax=ax4, color="#0000e6", linewidth=1.5, marker="o",
             markersize=5.5, markerfacecolor="none", markeredgecolor="#0000e6",
             markeredgewidth=1.2, estimator=None, sort=False)
sns.lineplot(x=qs_z, y=qs_v, ax=ax4, color="#ff0000", linewidth=1.5, marker="o",
             markersize=5.5, markerfacecolor="none", markeredgecolor="#ff0000",
             markeredgewidth=1.2, estimator=None, sort=False)
ax4.set_ylim(0, 40)
ax4.yaxis.set_major_locator(MultipleLocator(20))
ax4.yaxis.set_minor_locator(MultipleLocator(4))
style_axis(ax4, "Résistance de pointe,  (MPa)", -0.085)
leg_line(ax4, 0.961, 0.604, 0.757, "#0000e6", marker="o", mfc="white", ms=5)
leg_text(ax4, 0.953, 0.869, r"$\mathregular{q_d^{\,P3}}$")
leg_line(ax4, 0.961, 0.219, 0.377, "#ff0000", marker="o", mfc="white", ms=5)
leg_text(ax4, 0.953, 0.480, r"$\mathregular{q_s^{\,P3}}$")

fig.text(0.54, 0.0095, "Profondeur, z (m)", rotation=180, ha="center", va="center",
         fontsize=LABEL_FS, fontweight="bold", color=LABEL_BLUE)

fig.savefig("out.png", dpi=100)
